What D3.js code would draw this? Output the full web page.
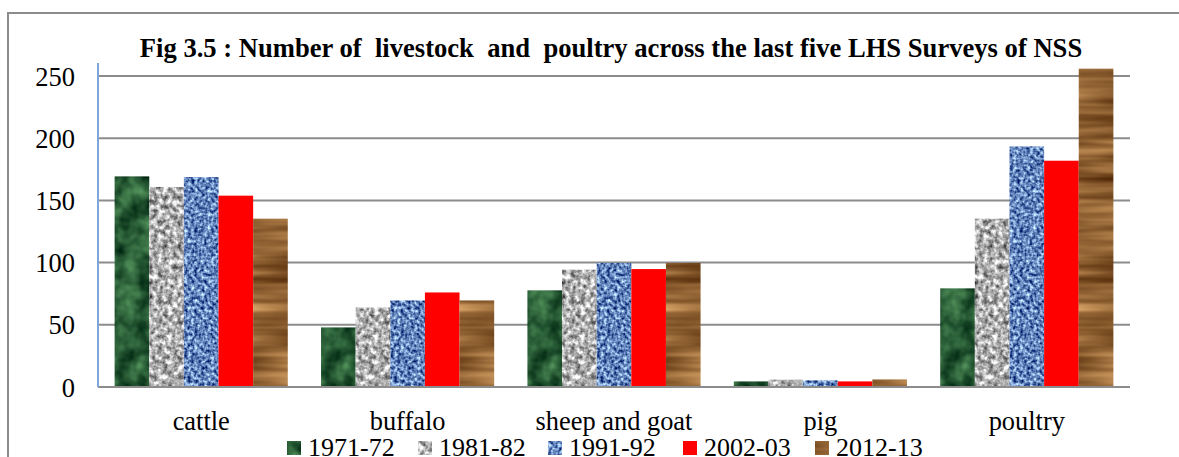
<html>
    <!DOCTYPE html>
    <meta charset="utf-8">
    <head>
        <script src="https://cdn.jsdelivr.net/npm/d3@7"></script>
        <style>
            body { margin: 0; background: #fff; }
            svg text { font-family: "Liberation Serif", "Times New Roman", Tinos, serif !important; fill: #000; }
            .title { font-weight: bold; font-size: 26.6px; }
            .tick text { font-size: 26.5px; }
            .cat { font-size: 26.4px; }
            .legend text { font-size: 26px; }
        </style>
    </head>
    <body>
        <div id="chart"></div>
        <script>
            // data
            var categories = ["cattle", "buffalo", "sheep and goat", "pig", "poultry"];
            var years = ["1971-72", "1981-82", "1991-92", "2002-03", "2012-13"];
            var v1971 = [169.3, 47.9, 77.7, 4.5, 79.3];
            var v1981 = [160.8, 64.0, 94.3, 5.9, 135.3];
            var v1991 = [168.8, 69.6, 99.7, 5.3, 193.4];
            var v2002 = [153.8, 76.0, 94.8, 4.5, 181.9];
            var v2012 = [135.3, 69.6, 99.7, 6.1, 255.9];
            var yTicks = [0, 50, 100, 150, 200, 250];
            var title = "Fig 3.5 : Number of \u00a0livestock \u00a0and \u00a0poultry across the last five LHS Surveys of NSS";

            var series = [v1971, v1981, v1991, v2002, v2012];

            var width = 1179, height = 457;
            var margin = {left: 98, right: 49, top: 76, bottom: 70};
            var serif = "'Liberation Serif', 'Times New Roman', Tinos, serif";

            var svg = d3.select("#chart").append("svg")
                .attr("width", width)
                .attr("height", height)
                .attr("font-family", serif);

            // textures made with turbulence filters
            var defs = svg.append("defs");
            function texture(id, freq, oct, lo, hi) {
                var f = defs.append("filter").attr("id", id)
                    .attr("x", 0).attr("y", 0).attr("width", 1).attr("height", 1)
                    .attr("color-interpolation-filters", "sRGB");
                f.append("feTurbulence").attr("type", "fractalNoise")
                    .attr("baseFrequency", freq).attr("numOctaves", oct).attr("seed", 3).attr("result", "n");
                var rows = [];
                for (var i = 0; i < 3; i++) {
                    var s = (hi[i] - lo[i]) / 255 / 0.4;
                    var o = lo[i] / 255 - 0.3 * s;
                    rows.push(s + " 0 0 0 " + o);
                }
                rows.push("0 0 0 0 1");
                f.append("feColorMatrix").attr("in", "n").attr("type", "matrix")
                    .attr("values", rows.join(" ")).attr("result", "c");
                f.append("feComposite").attr("in", "c").attr("in2", "SourceGraphic").attr("operator", "in");
                return "url(#" + id + ")";
            }
            var fills = [
                {color: "#1e5a30", filter: texture("t0", "0.05", 3, [12, 55, 28], [70, 130, 80])},
                {color: "#bdbdbd", filter: texture("t1", "0.2", 3, [110, 110, 110], [240, 240, 240])},
                {color: "#7ea6e0", filter: texture("t2", "0.3", 2, [30, 60, 130], [170, 205, 245])},
                {color: "#ff0000", filter: null},
                {color: "#93612f", filter: texture("t4", "0.006 0.07", 3, [100, 58, 20], [185, 135, 80])}
            ];

            var x0 = d3.scaleBand().domain(categories)
                .range([margin.left, width - margin.right]);
            var x1 = d3.scaleBand().domain(years)
                .range([0, x0.bandwidth()]).paddingOuter(0.48);
            var y = d3.scaleLinear().domain([0, 250])
                .range([height - margin.bottom, margin.top]);

            // outer frame
            svg.append("path")
                .attr("d", "M8,457V13H1179")
                .attr("fill", "none").attr("stroke", "#8c8c8c").attr("stroke-width", 2);

            // title
            svg.append("text").attr("class", "title")
                .attr("x", 611).attr("y", 57).attr("text-anchor", "middle")
                .text(title);

            // gridlines
            svg.append("g").selectAll("line")
                .data(yTicks).enter().append("line")
                .attr("x1", margin.left).attr("x2", width - margin.right)
                .attr("y1", function(d) { return y(d); })
                .attr("y2", function(d) { return y(d); })
                .attr("stroke", "#8c8c8c").attr("stroke-width", 2);

            // y axis labels
            var yAxis = d3.axisLeft(y).tickValues(yTicks).tickSize(0).tickPadding(23);
            var ga = svg.append("g").attr("transform", "translate(" + margin.left + ",0)").call(yAxis)
                .attr("font-family", serif);
            ga.select(".domain").remove();
            ga.selectAll("text").attr("dy", "0.34em");

            // bars
            var groups = svg.append("g").selectAll("g")
                .data(categories).enter().append("g")
                .attr("transform", function(d) { return "translate(" + x0(d) + ",0)"; });
            groups.selectAll("rect")
                .data(function(d, i) { return years.map(function(yr, j) { return {yr: yr, j: j, v: series[j][i]}; }); })
                .enter().append("rect")
                .attr("x", function(d) { return x1(d.yr); })
                .attr("width", x1.bandwidth())
                .attr("y", function(d) { return y(d.v); })
                .attr("height", function(d) { return y(0) - y(d.v); })
                .attr("fill", function(d) { return fills[d.j].color; })
                .attr("filter", function(d) { return fills[d.j].filter; });

            // x axis line
            svg.append("line")
                .attr("x1", margin.left).attr("x2", width - margin.right)
                .attr("y1", y(0)).attr("y2", y(0))
                .attr("stroke", "#8c8c8c").attr("stroke-width", 2);
            // y axis line
            svg.append("line")
                .attr("x1", margin.left).attr("x2", margin.left)
                .attr("y1", 63).attr("y2", y(0))
                .attr("stroke", "#7ea6db").attr("stroke-width", 2);

            // category labels
            svg.append("g").selectAll("text")
                .data(categories).enter().append("text").attr("class", "cat")
                .attr("x", function(d) { return x0(d) + x0.bandwidth() / 2; })
                .attr("y", 430).attr("text-anchor", "middle")
                .text(function(d) { return d; });

            // legend
            var legendX = [287, 418, 548, 683, 815];
            var lg = svg.append("g").attr("class", "legend").selectAll("g")
                .data(years).enter().append("g")
                .attr("transform", function(d, i) { return "translate(" + legendX[i] + ",441)"; });
            lg.append("rect").attr("width", 14).attr("height", 14)
                .attr("fill", function(d, i) { return fills[i].color; })
                .attr("filter", function(d, i) { return fills[i].filter; });
            lg.append("text").attr("x", 21).attr("y", 15)
                .text(function(d) { return d; });
        </script>
    </body>
</html>
